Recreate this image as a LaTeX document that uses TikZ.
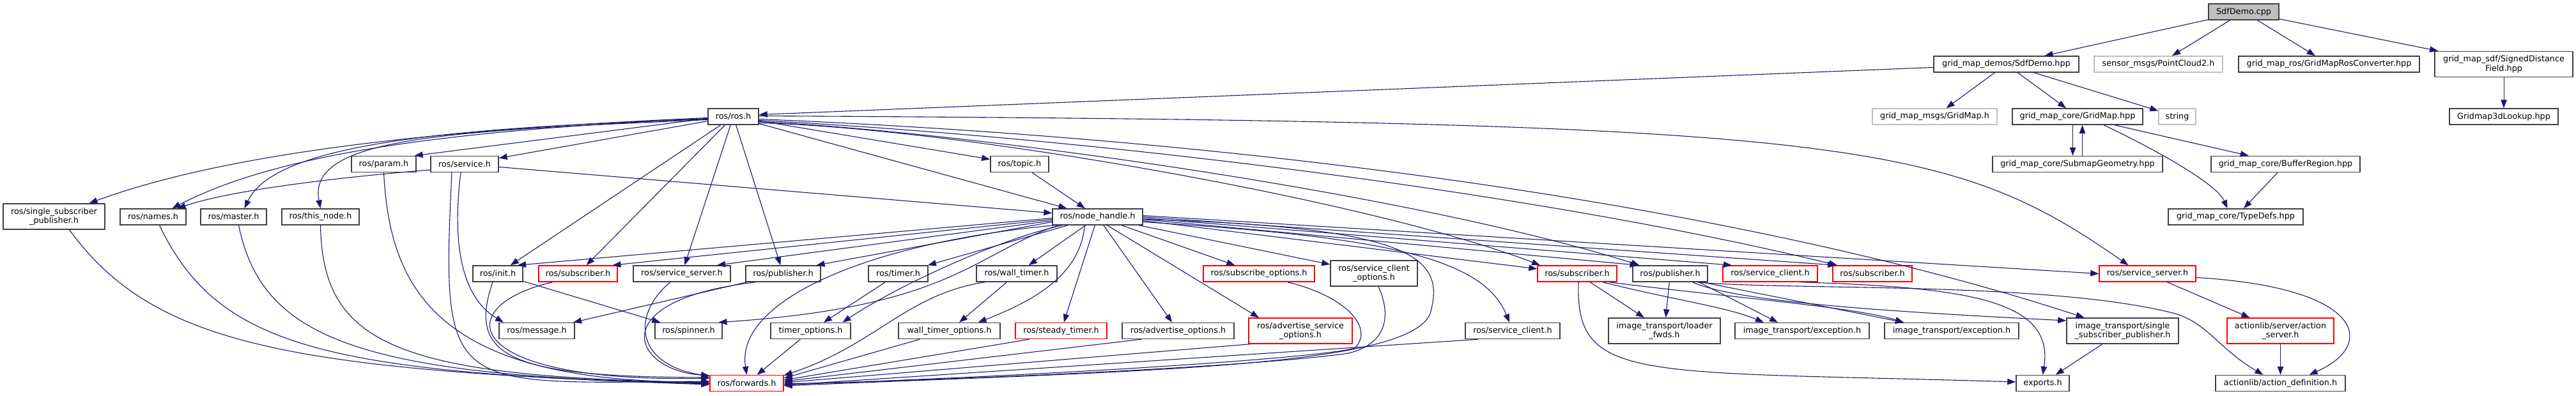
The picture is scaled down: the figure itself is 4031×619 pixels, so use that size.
\documentclass[tikz,border=0pt]{standalone}
\usepackage{fontspec}
\setmainfont{DejaVu Sans}
\usetikzlibrary{arrows.meta}
\definecolor{edgec}{HTML}{191970}
\definecolor{grey75}{HTML}{BFBFBF}
\definecolor{bordc}{HTML}{404040}
\begin{document}
\begin{tikzpicture}[x=1pt,y=1pt,
  nbox/.style={draw=bordc, line width=1.5pt, inner sep=0pt, minimum height=25pt,
     align=center, font=\fontsize{12.8pt}{14.3pt}\selectfont},
  gbox/.style={nbox, draw=grey75},
  rbox/.style={nbox, draw=red},
  tall/.style={minimum height=40pt},
  lnk/.style={draw=edgec, line width=1.1pt, -{Triangle[length=13pt,width=9.5pt]}}]
\useasboundingbox (0,0) rectangle (4031,-619);
% row 0
\node[nbox, fill=grey75, minimum width=110pt] (cpp) at (3511,-18.5) {SdfDemo.cpp};
% row 1
\node[nbox, minimum width=227pt] (demos) at (3139.5,-100.5) {grid\_map\_demos/SdfDemo.hpp};
\node[gbox, minimum width=201pt] (pc2) at (3377.5,-100.5) {sensor\_msgs/PointCloud2.h};
\node[nbox, minimum width=283pt] (rosconv) at (3644.5,-100.5) {grid\_map\_ros/GridMapRosConverter.hpp};
\node[nbox, tall, minimum width=216pt] (sdf) at (3918,-100.5) {grid\_map\_sdf/SignedDistance\\Field.hpp};
% row 2
\node[nbox, minimum width=79pt] (rosh) at (1147.5,-182.5) {ros/ros.h};
\node[gbox, minimum width=195pt] (gmmsg) at (3027.5,-182.5) {grid\_map\_msgs/GridMap.h};
\node[nbox, minimum width=204pt] (gridmap) at (3251,-182.5) {grid\_map\_core/GridMap.hpp};
\node[gbox, minimum width=58pt] (string) at (3407,-182.5) {string};
\node[nbox, minimum width=170pt] (lookup) at (3918,-182.5) {Gridmap3dLookup.hpp};
% row 3
\node[nbox, minimum width=101pt] (param) at (600.5,-257) {ros/param.h};
\node[nbox, minimum width=106pt] (service) at (727,-257) {ros/service.h};
\node[nbox, minimum width=91pt] (topic) at (1595.5,-257) {ros/topic.h};
\node[nbox, minimum width=266pt] (submap) at (3251,-257) {grid\_map\_core/SubmapGeometry.hpp};
\node[nbox, minimum width=233pt] (buffer) at (3576.5,-257) {grid\_map\_core/BufferRegion.hpp};
% row 4
\node[nbox, tall, minimum width=159pt] (ssp) at (84.5,-339) {ros/single\_subscriber\\\_publisher.h};
\node[nbox, minimum width=103pt] (names) at (239.5,-339.5) {ros/names.h};
\node[nbox, minimum width=103pt] (master) at (365.5,-339.5) {ros/master.h};
\node[nbox, minimum width=121pt] (thisnode) at (501.5,-339.5) {ros/this\_node.h};
\node[nbox, minimum width=141pt] (nh) at (1717.5,-339.5) {ros/node\_handle.h};
\node[nbox, minimum width=211pt] (typedefs) at (3498.5,-339.5) {grid\_map\_core/TypeDefs.hpp};
% row 5
\node[nbox, minimum width=78pt] (init) at (779,-428.5) {ros/init.h};
\node[rbox, minimum width=123pt] (sub1) at (904.5,-428.5) {ros/subscriber.h};
\node[nbox, minimum width=152pt] (srv1) at (1067,-428.5) {ros/service\_server.h};
\node[nbox, minimum width=117pt] (pub1) at (1225.5,-428.5) {ros/publisher.h};
\node[nbox, minimum width=93pt] (timer) at (1405.5,-428.5) {ros/timer.h};
\node[nbox, minimum width=126pt] (walltimer) at (1591,-428.5) {ros/wall\_timer.h};
\node[rbox, minimum width=174pt] (subopt) at (1970,-428.5) {ros/subscribe\_options.h};
\node[nbox, tall, minimum width=136pt] (scopt) at (2150,-428) {ros/service\_client\\\_options.h};
\node[rbox, minimum width=124pt] (sub2) at (2468,-428.5) {ros/subscriber.h};
\node[nbox, minimum width=117pt] (pub2) at (2613.5,-428.5) {ros/publisher.h};
\node[rbox, minimum width=148pt] (sc2) at (2770,-428.5) {ros/service\_client.h};
\node[rbox, minimum width=124pt] (sub3) at (2930,-428.5) {ros/subscriber.h};
\node[rbox, minimum width=151pt] (srv2) at (3360.5,-428.5) {ros/service\_server.h};
% row 6
\node[nbox, minimum width=118pt] (message) at (840,-518) {ros/message.h};
\node[nbox, minimum width=105pt] (spinner) at (1077.5,-518) {ros/spinner.h};
\node[nbox, minimum width=125pt] (timeropt) at (1268.5,-518) {timer\_options.h};
\node[nbox, minimum width=159pt] (wtopt) at (1485.5,-518) {wall\_timer\_options.h};
\node[rbox, minimum width=143pt] (steady) at (1660.5,-518) {ros/steady\_timer.h};
\node[nbox, minimum width=175pt] (advopt) at (1843.5,-518) {ros/advertise\_options.h};
\node[rbox, tall, minimum width=162pt] (asopt) at (2035,-518) {ros/advertise\_service\\\_options.h};
\node[nbox, minimum width=148pt] (sc1) at (2367,-518) {ros/service\_client.h};
\node[nbox, tall, minimum width=175pt] (loader) at (2604.5,-518) {image\_transport/loader\\\_fwds.h};
\node[nbox, minimum width=210pt] (exc1) at (2820,-518) {image\_transport/exception.h};
\node[nbox, minimum width=210pt] (exc2) at (3054,-518) {image\_transport/exception.h};
\node[nbox, tall, minimum width=175pt] (itssp) at (3321.5,-518) {image\_transport/single\\\_subscriber\_publisher.h};
\node[rbox, tall, minimum width=167pt] (actsrv) at (3568.5,-518) {actionlib/server/action\\\_server.h};
% row 7
\node[rbox, minimum width=115pt] (fwd) at (1168.5,-600) {ros/forwards.h};
\node[nbox, minimum width=83pt] (exports) at (3196.5,-600) {exports.h};
\node[nbox, minimum width=203pt] (actdef) at (3568.5,-600) {actionlib/action\_definition.h};

% ---- edges: top
\draw[lnk] (cpp) -- (demos);
\draw[lnk] (cpp) -- (pc2);
\draw[lnk] (cpp) -- (rosconv);
\draw[lnk] (cpp) -- (sdf);
\draw[lnk] (sdf) -- (lookup);
\draw[lnk] ([yshift=-5pt]demos.west) -- ([yshift=3pt]rosh.east);
\draw[lnk] (demos) -- (gmmsg);
\draw[lnk] (demos) -- (gridmap);
\draw[lnk] (demos) -- (string);
\draw[lnk] ([xshift=-7.5pt]gridmap.south) -- ([xshift=-7.5pt]submap.north);
\draw[lnk] ([xshift=7.5pt]submap.north) -- ([xshift=7.5pt]gridmap.south);
\draw[lnk] (gridmap) -- (buffer);
\draw[lnk] ([xshift=41pt]gridmap.south) .. controls (3385,-240) and (3470,-290) .. ([xshift=-13pt]typedefs.north);
\draw[lnk] (buffer) -- (typedefs);

% ---- ros.h left
\draw[lnk] ([yshift=-2pt]rosh.west) .. controls (750,-200) and (380,-230) .. ([xshift=55pt]ssp.north);
\draw[lnk] ([yshift=-3pt]rosh.west) .. controls (750,-202) and (450,-232) .. ([xshift=30pt]names.north);
\draw[lnk] ([yshift=-4pt]rosh.west) .. controls (700,-200) and (430,-225) .. ([xshift=17pt]master.north);
\draw[lnk] ([yshift=-5pt]rosh.west) .. controls (700,-205) and (480,-215) .. (thisnode.north);
\draw[lnk] ([yshift=-3pt]rosh.west) -- ([xshift=-3pt]param.north east);
\draw[lnk] (rosh) -- (service);
\draw[lnk] (rosh) -- (init);
\draw[lnk] (rosh) -- (sub1);
\draw[lnk] (rosh) -- (srv1);
\draw[lnk] (rosh) -- (pub1);
\draw[lnk] (rosh) -- (topic);
\draw[lnk] (rosh) -- (nh);
\draw[lnk] (topic) -- (nh);

% ---- ros.h right
\draw[lnk] ([yshift=1pt]rosh.east) .. controls (2900,-190) and (3050,-220) .. ([xshift=-30pt]srv2.north);
\draw[lnk] ([yshift=-4pt]rosh.east) .. controls (2000,-220) and (2750,-330) .. ([xshift=-60pt]itssp.north);
\draw[lnk] ([yshift=-6pt]rosh.east) .. controls (1700,-215) and (2400,-300) .. ([xshift=-55pt]sub3.north);
\draw[lnk] ([yshift=-8pt]rosh.east) .. controls (1500,-205) and (2200,-300) .. ([xshift=-48pt]pub2.north);
\draw[lnk] ([yshift=-10pt]rosh.east) .. controls (1500,-200) and (2150,-315) .. ([xshift=-58pt]sub2.north);

% ---- service.h
\draw[lnk] (service) -- (nh);
\draw[lnk] ([yshift=-9pt]service.west) .. controls (560,-275) and (370,-295) .. ([xshift=38pt]names.north);
\draw[lnk] ([xshift=-6pt]service.south) .. controls (705,-400) and (730,-470) .. ([xshift=-52pt]message.north);
\draw[lnk] ([xshift=-20pt]service.south) .. controls (690,-620) and (700,-600) .. ([yshift=3pt]fwd.west);

% ---- left group to forwards
\draw[lnk] (param.south) .. controls (610,-450) and (680,-600) .. ([yshift=2pt]fwd.west);
\draw[lnk] (thisnode.south) .. controls (505,-540) and (620,-590) .. ([yshift=1pt]fwd.west);
\draw[lnk] ([xshift=8pt]master.south) .. controls (410,-530) and (560,-590) .. (fwd.west);
\draw[lnk] ([xshift=10pt]names.south) .. controls (340,-540) and (500,-585) .. ([yshift=-1pt]fwd.west);
\draw[lnk] ([xshift=24pt]ssp.south) .. controls (240,-540) and (450,-580) .. ([yshift=-2pt]fwd.west);

% ---- node_handle to the left
\draw[lnk] ([yshift=-2pt]nh.west) -- ([xshift=31pt]init.north);
\draw[lnk] ([yshift=-4pt]nh.west) -- ([xshift=54pt]sub1.north);
\draw[lnk] ([yshift=-6pt]nh.west) -- ([xshift=55pt]srv1.north);
\draw[lnk] ([yshift=-8pt]nh.west) -- ([xshift=52pt]pub1.north);
\draw[lnk] (nh) -- (timer);
\draw[lnk] (nh) -- (walltimer);
\draw[lnk] ([xshift=-55pt]nh.south) .. controls (1560,-375) and (1400,-450) .. ([xshift=50pt]timeropt.north);
\draw[lnk] ([xshift=-62pt]nh.south) .. controls (1520,-400) and (1490,-480) .. ([xshift=47pt]spinner.north);
\draw[lnk] ([xshift=-68pt]nh.south) .. controls (1360,-380) and (1150,-470) .. (fwd.north);
\draw[lnk] ([xshift=-20pt]nh.south) .. controls (1690,-430) and (1620,-470) .. ([xshift=45pt]wtopt.north);
\draw[lnk] (nh) -- (steady);
\draw[lnk] (nh) -- (advopt);
\draw[lnk] ([xshift=15pt]nh.south) -- ([xshift=-65pt]asopt.north);
\draw[lnk] (nh) -- (subopt);
\draw[lnk] (nh) -- (scopt);
\draw[lnk] ([yshift=-8pt]nh.east) .. controls (2150,-370) and (2320,-400) .. ([xshift=-5pt]sc1.north);
\draw[lnk] ([yshift=-4pt]nh.east) .. controls (2200,-355) and (2260,-400) .. (2240,-483) .. controls (2230,-575) and (1800,-580) .. ([yshift=-4pt]fwd.east);
% ---- node_handle to the right
\draw[lnk] ([yshift=-6pt]nh.east) -- (sub2);
\draw[lnk] ([yshift=-4pt]nh.east) -- ([xshift=-50pt]pub2.north);
\draw[lnk] ([yshift=-2pt]nh.east) -- ([xshift=-60pt]sc2.north);
\draw[lnk] (nh.east) -- ([xshift=-57pt]sub3.north);
\draw[lnk] ([yshift=2pt]nh.east) -- (srv2.west);

% ---- row 5 left to row 6 / forwards
\draw[lnk] ([xshift=-8pt]init.south) .. controls (730,-560) and (800,-590) .. ([yshift=9pt]fwd.west);
\draw[lnk] (init) -- (spinner);
\draw[lnk] ([xshift=-40pt]sub1.south) .. controls (700,-480) and (720,-600) .. ([yshift=8pt]fwd.west);
\draw[lnk] ([xshift=-18pt]srv1.south) .. controls (990,-490) and (990,-570) .. ([yshift=11pt]fwd.west);
\draw[lnk] (pub1) -- (message);
\draw[lnk] ([xshift=-43pt]pub1.south) .. controls (940,-470) and (990,-580) .. ([yshift=12pt]fwd.west);
\draw[lnk] (timer) -- (timeropt);
\draw[lnk] (walltimer) -- (wtopt);
\draw[lnk] ([xshift=-50pt]walltimer.south) .. controls (1420,-460) and (1370,-540) .. ([yshift=-1pt]fwd.north east);
\draw[lnk] (timeropt) -- (fwd);
\draw[lnk] (wtopt) -- ([yshift=8pt]fwd.east);
\draw[lnk] ([xshift=-50pt]steady.south) -- ([yshift=5pt]fwd.east);
\draw[lnk] ([xshift=-58pt]advopt.south) -- ([yshift=3pt]fwd.east);
\draw[lnk] ([xshift=3pt]asopt.south west) -- ([yshift=1pt]fwd.east);
\draw[lnk] ([xshift=45pt]subopt.south) .. controls (2110,-465) and (2150,-515) .. (2120,-545) .. controls (2060,-562) and (1600,-590) .. ([yshift=-2pt]fwd.east);
\draw[lnk] ([xshift=7pt]scopt.south) .. controls (2180,-500) and (2165,-540) .. (2110,-553) .. controls (2000,-570) and (1600,-592) .. ([yshift=-1pt]fwd.east);
\draw[lnk] ([xshift=-54pt]sc1.south) -- ([yshift=-3pt]fwd.east);

% ---- right cluster
\draw[lnk] ([xshift=2pt]sub2.south) .. controls (2465,-600) and (2560,-580) .. ([yshift=2pt]exports.west);
\draw[lnk] (sub2) -- (loader);
\draw[lnk] (pub2) -- (loader);
\draw[lnk] ([xshift=40pt]sub2.south) .. controls (2620,-470) and (2700,-480) .. ([xshift=-60pt]exc1.north);
\draw[lnk] ([xshift=45pt]pub2.south) -- ([xshift=-38pt]exc1.north);
\draw[lnk] ([xshift=50pt]sub2.south) .. controls (2700,-465) and (2900,-480) .. ([xshift=-75pt]exc2.north);
\draw[lnk] ([xshift=50pt]pub2.south) -- ([xshift=-75pt]exc2.north);
\draw[lnk] ([xshift=35pt]pub2.south) .. controls (2720,-475) and (3000,-490) .. ([yshift=16pt]itssp.west);
\draw[lnk] ([xshift=42pt]pub2.south) .. controls (2800,-455) and (3200,-440) .. (3400,-490) .. controls (3455,-505) and (3470,-545) .. ([xshift=-27pt]actdef.north);
\draw[lnk] ([xshift=48pt]sc2.south) .. controls (3080,-450) and (3215,-470) .. (exports.north);
\draw[lnk] (itssp) -- (exports);
\draw[lnk] (srv2) -- (actsrv);
\draw[lnk] ([yshift=-6pt]srv2.east) .. controls (3700,-450) and (3720,-540) .. ([xshift=45pt]actdef.north);
\draw[lnk] (actsrv) -- (actdef);
\end{tikzpicture}
\end{document}
